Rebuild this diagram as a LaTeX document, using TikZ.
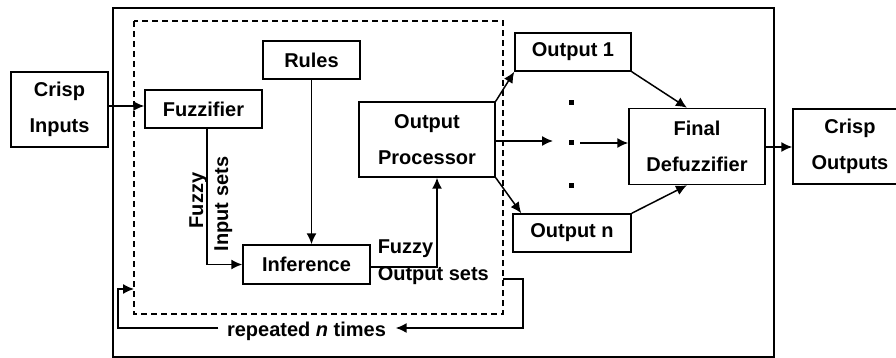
\documentclass[tikz,border=0pt]{standalone}
\usepackage{fontspec}
\setmainfont{Liberation Sans}
\usetikzlibrary{arrows.meta}
\begin{document}
\begin{tikzpicture}[x=1pt,y=-1pt,
  line width=1.5pt,
  box/.style={draw, line width=1.5pt, inner sep=0pt, align=center,
    font=\bfseries\fontsize{20}{36}\selectfont},
  lbl/.style={inner sep=0pt, font=\bfseries\fontsize{20}{24}\selectfont},
  arr/.style={-{Latex[length=11pt,width=10pt]}},
  dotsq/.style={fill, minimum size=5pt, inner sep=0pt}]
\clip (0,0) rectangle (896,358);
\useasboundingbox (0,0) rectangle (896,358);
% frames
\draw (113,8) rectangle (774,357);
\draw[dashed, dash pattern=on 6pt off 4pt] (134,21) rectangle (503,314);
% boxes
\node[box, minimum width=97pt, minimum height=75pt] (ci) at (59.5,109.5) {Crisp\\Inputs};
\node[box, minimum width=117pt, minimum height=38pt] (fz) at (203.5,109) {Fuzzifier};
\node[box, minimum width=97pt, minimum height=38pt] (ru) at (311.5,60) {Rules};
\node[box, minimum width=136pt, minimum height=75pt] (op) at (427,139.5) {Output\\Processor};
\node[box, minimum width=127pt, minimum height=39pt] (inf) at (306.5,264.5) {Inference};
\node[box, minimum width=116pt, minimum height=38pt] (o1) at (573,52) {Output 1};
\node[box, minimum width=118pt, minimum height=38pt] (on) at (572,233) {Output n};
\node[box, minimum width=136pt, minimum height=76pt] (fd) at (697,146.5) {Final\\Defuzzifier};
\node[box, minimum width=114pt, minimum height=75pt] (co) at (850,146.5) {Crisp\\Outputs};
% dots
\node[dotsq] (d1) at (571,103) {};
\node[dotsq] (d2) at (571,143) {};
\node[dotsq] (d3) at (571,186) {};
% labels
\node[lbl, rotate=90, anchor=base] (lf1) at (203,200.5) {Fuzzy};
\node[lbl, rotate=90, anchor=base] (lf2) at (228,204) {Input sets};
\node[lbl, anchor=base west] (lo1) at (377,253) {Fuzzy};
\node[lbl, anchor=base west] (lo2) at (377,280) {Output sets};
\node[lbl, anchor=base] (rep) at (306.5,336) {repeated \textit{n} times};
% connectors
\draw[arr] (ci.east |- 0,106) -- (fz.west |- 0,106);
\draw[arr] ([xshift=3.5pt]fz.south) |- (inf.west);
\draw[arr] (ru.south) -- (ru.south |- inf.north);
\draw[arr] ([yshift=-2.5pt]inf.east) -| ([xshift=10pt]op.south);
\draw[arr] (op.north east) -- (o1.south west);
\draw[arr] (op.south east) -- ([xshift=9pt]on.north west);
\coordinate (m1) at (553,141);
\draw[arr] (op.east |- m1) -- (m1);
\coordinate (m2) at (580,143);
\draw[arr] (m2) -- (fd.west |- m2);
\draw[arr] (o1.south east) -- ([xshift=-10pt]fd.north);
\draw[arr] (on.north east) -- ([xshift=-10pt]fd.south);
\draw[arr] (fd.east |- 0,147) -- (co.west |- 0,147);
% feedback loop
\coordinate (fb0) at (503,279);
\coordinate (fb1) at (134,289);
\draw[arr] (fb0) -- (523,279) |- ([xshift=9pt]rep.east |- 0,328);
\draw[arr] ([xshift=-8pt]rep.west |- 0,328) -- (118,328) |- (fb1);
\end{tikzpicture}
\end{document}
